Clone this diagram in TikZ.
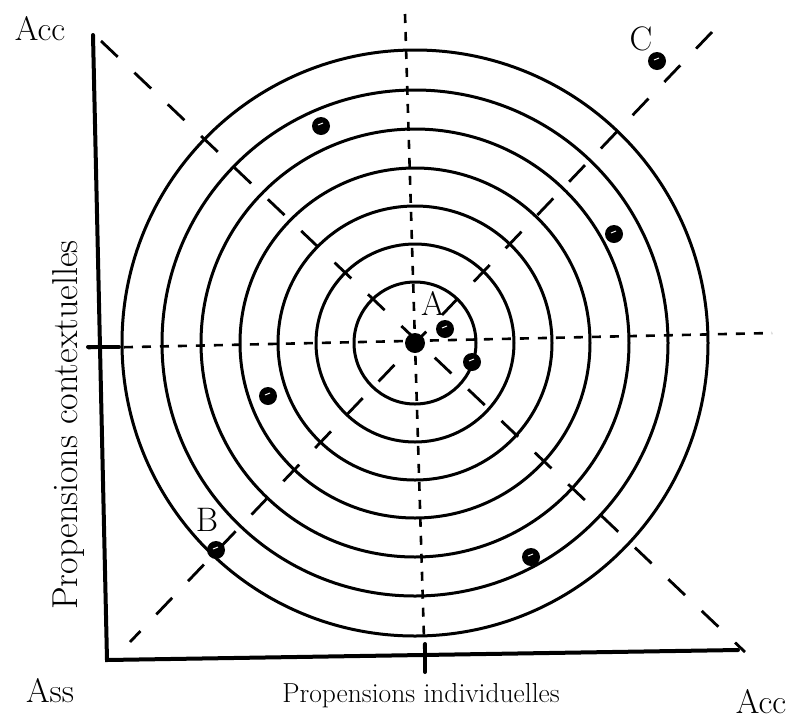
\documentclass[tikz,border=0pt]{standalone}
\usepackage{tikz}

\begin{document}
\begin{tikzpicture}[
  x=1pt, y=-1pt,
  ring/.style={line width=3pt},
  axis/.style={line width=4pt, line cap=round},
  guide/.style={line width=2.6pt, dash pattern=on 9pt off 9pt},
  diag/.style={line width=2.8pt, dash pattern=on 23pt off 23pt},
  spot/.style={circle, fill=black, inner sep=0pt, minimum size=18pt,
    path picture={\draw[white, line width=1pt]
      ([xshift=-3pt,yshift=1pt]path picture bounding box.center) -- ++(5pt,2pt);}},
  hub/.style={circle, fill=black, inner sep=0pt, minimum size=20pt},
  tag/.style={font=\fontsize{34}{38}\selectfont, inner sep=0pt},
  ttl/.style={font=\fontsize{27.5}{32}\selectfont, inner sep=0pt},
]
  \useasboundingbox (0,0) rectangle (796,721);
  % --- frame ---
  \coordinate (ctr) at (415,343);
  \coordinate (top) at (93,35);
  \coordinate (ass) at (107,660);
  \coordinate (far) at (738,650);
  \draw[axis] (top) -- (ass) -- (far);
  \draw[axis] (88,347) -- (119,347);
  \draw[axis] (425,644) -- (425,672);
  % --- rings ---
  \foreach \r in {61,99,137,175,214,253,293}
    \draw[ring] (ctr) circle (\r);
  % --- guides ---
  \coordinate (gn) at (405,14);
  \coordinate (gs) at (425,672);
  \coordinate (gw) at (88,348);
  \coordinate (ge) at (772,333);
  \draw[guide] (gn) -- (gs);
  \draw[guide] (gw) -- (ge);
  \coordinate (dnw) at (101,41);
  \coordinate (dse) at (745,652);
  \coordinate (dne) at (712,32);
  \coordinate (dsw) at (130,642);
  \draw[diag] (dnw) -- (dse);
  \draw[diag] (dne) -- (dsw);
  % --- positions ---
  \node[hub] (mid) at (ctr) {};
  \node[spot] (pA) at (445,329) {};
  \node[spot] (pB) at (216,550) {};
  \node[spot] (pC) at (657,61) {};
  \node[spot] (p1) at (321,126) {};
  \node[spot] (p2) at (614,234) {};
  \node[spot] (p3) at (472,362) {};
  \node[spot] (p4) at (268,396) {};
  \node[spot] (p5) at (531,557) {};
  \node[tag] (lA) at (433,303) {A};
  \node[tag] (lB) at (207,520) {B};
  \node[tag] (lC) at (641,39) {C};
  % --- axis labels ---
  \node[tag] (acc1) at (40,29) {Acc};
  \node[tag] (ass0) at (50,691) {Ass};
  \node[tag] (acc2) at (761,702) {Acc};
  \node[ttl] (xlab) at (421,696) {Propensions individuelles};
  \node[ttl, font=\fontsize{36}{40}\selectfont, rotate=90] (ylab) at (69,425)
    {Propensions contextuelles};
\end{tikzpicture}
\end{document}
